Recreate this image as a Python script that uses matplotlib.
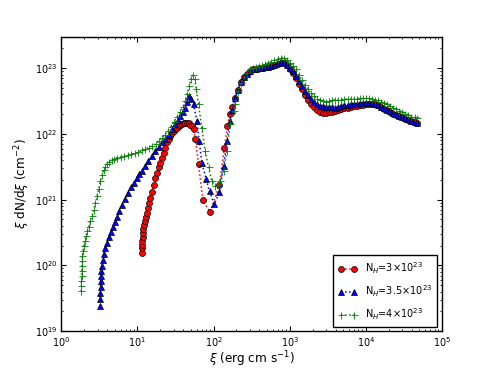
import numpy as np
import matplotlib
matplotlib.use("Agg")
import matplotlib.pyplot as plt
from matplotlib.ticker import LogLocator, NullFormatter

plt.rcParams['font.family'] = ['DejaVu Sans']
plt.rcParams['mathtext.fontset'] = 'dejavusans'

# ---------------- data (xi in erg cm s^-1, y stored as log10 of xi dN/dxi) ----------------
# low-xi branches (before the common high-xi plateau)
red_x = [11.46, 11.5, 11.55, 11.6, 11.7, 11.8, 11.95, 12.3, 12.5, 12.8, 13.2, 13.6, 14.1,
         14.7, 15.4, 16.3, 17.1, 18.0, 18.9, 19.9, 21.0, 22.0, 23.2, 24.4, 25.6, 26.9,
         28.4, 29.8, 31.3, 33.0, 34.6, 36.5, 38.4, 40.3, 42.4, 44.5, 46.9, 49.3, 51.9,
         54.5, 57.4, 63.4, 72.4, 90.2, 119, 139, 152, 162]
red_logy = [20.19, 20.26, 20.31, 20.37, 20.43, 20.49, 20.55, 20.61, 20.67, 20.74, 20.80,
            20.87, 20.95, 21.03, 21.12, 21.23, 21.33, 21.41, 21.49, 21.56, 21.64, 21.71,
            21.79, 21.87, 21.92, 21.97, 22.01, 22.04, 22.07, 22.09, 22.12, 22.14, 22.15,
            22.16, 22.17, 22.17, 22.16, 22.14, 22.12, 22.07, 21.93, 21.54, 20.99, 20.81,
            21.23, 21.79, 22.12, 22.30]

blue_x = [3.25, 3.25, 3.25, 3.27, 3.28, 3.31, 3.35, 3.42, 3.5, 3.6, 3.78, 3.98, 4.2, 4.46,
          4.74, 5.03, 5.38, 5.77, 6.26, 6.8, 7.4, 8.2, 8.93, 9.83, 10.5, 11.5, 12.6, 13.9,
          15.5, 17.1, 18.9, 21.0, 23.2, 25.6, 28.4, 31.3, 33.8, 36.5, 39.4, 42.4, 44.5,
          47.0, 50.0, 54.5, 60.4, 64.7, 70.2, 80, 88.4, 102, 119, 135, 150, 162]
blue_logy = [19.38, 19.49, 19.58, 19.67, 19.76, 19.84, 19.91, 19.99, 20.08, 20.17, 20.26,
             20.34, 20.43, 20.51, 20.58, 20.66, 20.74, 20.83, 20.92, 21.01, 21.10, 21.19,
             21.25, 21.33, 21.39, 21.44, 21.51, 21.59, 21.66, 21.74, 21.80, 21.87, 21.93,
             21.99, 22.07, 22.15, 22.21, 22.27, 22.33, 22.40, 22.49, 22.58, 22.53, 22.45,
             22.20, 21.89, 21.56, 21.31, 21.13, 20.93, 21.11, 21.51, 21.89, 22.20]

green_x = [1.83, 1.83, 1.83, 1.84, 1.85, 1.86, 1.87, 1.89, 1.92, 1.96, 2.02, 2.1, 2.19, 2.3,
           2.4, 2.53, 2.65, 2.8, 2.94, 3.08, 3.25, 3.42, 3.59, 3.78, 4.01, 4.27, 4.6, 4.97,
           5.43, 6.03, 6.7, 7.4, 8.3, 9.2, 10.3, 11.4, 12.7, 14.1, 15.6, 17.4, 19.1, 20.8,
           22.9, 25.0, 27.4, 30.0, 32.8, 35.9, 39.4, 42.4, 45.0, 47.9, 50.9, 53.5, 56.5,
           59.3, 63.4, 70.2, 77.6, 85.8, 95, 105, 122, 135, 150, 165, 183]
green_logy = [19.61, 19.68, 19.76, 19.84, 19.91, 19.99, 20.07, 20.14, 20.22, 20.29, 20.37,
              20.45, 20.52, 20.59, 20.67, 20.75, 20.84, 20.95, 21.05, 21.16, 21.28, 21.37,
              21.45, 21.50, 21.55, 21.58, 21.60, 21.62, 21.64, 21.65, 21.66, 21.68, 21.69,
              21.71, 21.72, 21.75, 21.77, 21.79, 21.82, 21.85, 21.89, 21.94, 21.99, 22.05,
              22.11, 22.18, 22.25, 22.33, 22.41, 22.50, 22.61, 22.73, 22.84, 22.89, 22.83,
              22.68, 22.45, 22.09, 21.74, 21.49, 21.28, 21.21, 21.28, 21.44, 21.74, 22.15,
              22.35]

# high-xi plateau, shared xi grid
band_x = [174, 191, 209, 229, 251, 275, 302, 331, 363, 398, 437, 479, 525, 575, 631, 692,
          759, 832, 912, 1000, 1096, 1202, 1318, 1445, 1585, 1738, 1905, 2089, 2291, 2512,
          2754, 3020, 3311, 3631, 3981, 4365, 4786, 5248, 5754, 6310, 6918, 7586, 8318,
          9120, 10000, 10965, 12023, 13183, 14454, 15849, 17378, 19055, 20893, 22909,
          25119, 27542, 30200, 33113, 36308, 39811, 43652, 46774]
red_band_logy = [22.41, 22.55, 22.67, 22.785, 22.865, 22.915, 22.96, 22.98, 22.99, 23.00,
                 23.005, 23.02, 23.025, 23.035, 23.05, 23.065, 23.08, 23.08, 23.045, 22.995,
                 22.93, 22.85, 22.765, 22.68, 22.595, 22.52, 22.455, 22.405, 22.37, 22.34,
                 22.325, 22.32, 22.33, 22.34, 22.35, 22.365, 22.38, 22.39, 22.40, 22.41,
                 22.42, 22.425, 22.435, 22.44, 22.45, 22.45, 22.45, 22.45, 22.435, 22.41,
                 22.385, 22.36, 22.335, 22.31, 22.29, 22.27, 22.25, 22.225, 22.21, 22.19,
                 22.175, 22.16]
blue_band_logy = [22.36, 22.54, 22.67, 22.785, 22.865, 22.915, 22.96, 22.98, 22.99, 23.00,
                  23.005, 23.02, 23.025, 23.035, 23.055, 23.075, 23.09, 23.09, 23.055, 23.005,
                  22.95, 22.885, 22.80, 22.73, 22.655, 22.59, 22.535, 22.485, 22.45, 22.43,
                  22.42, 22.415, 22.41, 22.405, 22.40, 22.41, 22.425, 22.435, 22.445, 22.45,
                  22.455, 22.46, 22.465, 22.47, 22.47, 22.47, 22.465, 22.46, 22.44, 22.41,
                  22.39, 22.37, 22.345, 22.32, 22.30, 22.275, 22.255, 22.235, 22.22, 22.20,
                  22.18, 22.16]
green_band_logy = [None, 22.46, 22.66, 22.77, 22.86, 22.93, 22.98, 23.00, 23.02, 23.035,
                   23.045, 23.06, 23.08, 23.10, 23.125, 23.145, 23.16, 23.16, 23.125, 23.085,
                   23.04, 22.98, 22.90, 22.82, 22.745, 22.68, 22.62, 22.57, 22.53, 22.51,
                   22.50, 22.49, 22.50, 22.51, 22.52, 22.52, 22.52, 22.53, 22.53, 22.53,
                   22.53, 22.535, 22.54, 22.54, 22.54, 22.54, 22.53, 22.52, 22.51, 22.49,
                   22.47, 22.45, 22.425, 22.40, 22.38, 22.355, 22.33, 22.31, 22.29, 22.265,
                   22.25, 22.24]

labels = [r"N$_H$=3$\times10^{23}$", r"N$_H$=3.5$\times10^{23}$", r"N$_H$=4$\times10^{23}$"]
xticks = [1, 10, 100, 1000, 10000, 100000]
yticks = [1e19, 1e20, 1e21, 1e22, 1e23]


def full(x_lo, y_lo, yb):
    xs = list(x_lo) + [bx for bx, by in zip(band_x, yb) if by is not None]
    ls = list(y_lo) + [by for by in yb if by is not None]
    return np.array(xs, float), np.power(10.0, np.array(ls, float))


# ---------------- figure ----------------
DPI = 100
fig = plt.figure(figsize=(4.91, 3.68), dpi=DPI)
ax = fig.add_axes([0.125, 0.1, 0.775, 0.8])

px = 0.72  # points per pixel at dpi 100

rx, ry = full(red_x, red_logy, red_band_logy)
bx_, by_ = full(blue_x, blue_logy, blue_band_logy)
gx, gy = full(green_x, green_logy, green_band_logy)

ax.plot(rx, ry, linestyle=':', color='red', lw=1.1, marker='o', ms=6.0 * px,
        mfc='red', mec='black', mew=0.5, label=labels[0])
ax.plot(bx_, by_, linestyle=':', color='blue', lw=1.1, marker='^', ms=6.6 * px,
        mfc='blue', mec='black', mew=0.5, label=labels[1])
ax.plot(gx, gy, linestyle=':', color=(0, 0.5, 0), lw=1.1, marker='+', ms=7.0 * px,
        mew=0.6, mec=(0, 0.5, 0), label=labels[2])

ax.set_xscale('log')
ax.set_yscale('log')
ax.set_xlim(1, 1e5)
ax.set_ylim(1e19, 3.0e23)
ax.set_xticks(xticks)
ax.set_yticks(yticks)
ax.xaxis.set_minor_locator(LogLocator(base=10, subs=np.arange(2, 10), numticks=20))
ax.yaxis.set_minor_locator(LogLocator(base=10, subs=np.arange(2, 10), numticks=20))
ax.xaxis.set_minor_formatter(NullFormatter())
ax.yaxis.set_minor_formatter(NullFormatter())

ax.tick_params(which='both', direction='in', top=True, right=True, labelsize=9.6 * px,
               color='black')
ax.tick_params(which='major', length=5 * px, width=0.8, pad=4 * px)
ax.tick_params(which='minor', length=2.5 * px, width=0.6)
for s in ax.spines.values():
    s.set_linewidth(1.0)
    s.set_color('black')

ax.set_xlabel(r"$\xi$ (erg cm s$^{-1}$)", fontsize=12 * px, labelpad=0.5)
ax.set_ylabel(r"$\xi$ dN/d$\xi$ (cm$^{-2}$)", fontsize=12 * px, labelpad=2)

leg = ax.legend(loc='lower right', fontsize=9.8 * px, numpoints=2, fancybox=False,
                frameon=True, edgecolor='black', framealpha=1.0, handlelength=1.9,
                borderaxespad=0.45, labelspacing=0.75, handletextpad=0.9,
                borderpad=0.5)
leg.get_frame().set_linewidth(1.0)

fig.savefig("out.png", dpi=DPI)
